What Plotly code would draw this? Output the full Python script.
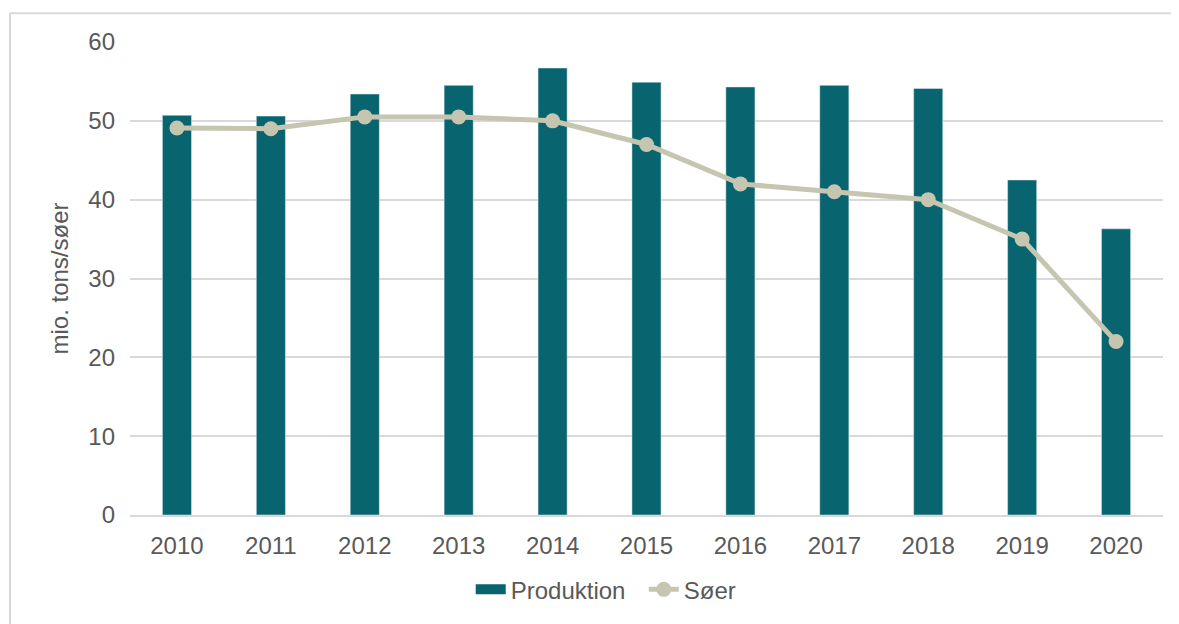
import plotly.graph_objects as go

years = ["2010", "2011", "2012", "2013", "2014", "2015", "2016", "2017", "2018", "2019", "2020"]
produktion = [50.7, 50.6, 53.4, 54.5, 56.7, 54.9, 54.3, 54.5, 54.1, 42.5, 36.3]
soeer = [49.1, 49.0, 50.5, 50.5, 50.0, 47.0, 42.0, 41.0, 40.0, 35.0, 22.0]

BAR = "#08646F"
LINE = "#C6C6B0"
TXT = "#595959"
GRID = "#D9D9D9"

fig = go.Figure()
fig.add_trace(go.Bar(x=years, y=produktion, name="Produktion",
                     marker_color=BAR, showlegend=False))
# legend proxy so the bar key is drawn as a wide block like the original
fig.add_trace(go.Scatter(x=[None], y=[None], name="Produktion  ", mode="lines",
                         line=dict(color=BAR, width=13)))
fig.add_trace(
    go.Scatter(
        x=years,
        y=soeer,
        name="Søer",
        mode="lines+markers",
        line=dict(color=LINE, width=5),
        marker=dict(color=LINE, size=15),
    )
)

# chart frame (top and left edges visible)
bx = (2 - 122) / 1033
by = (510 - 5) / 476
fig.add_shape(type="line", xref="paper", yref="paper", x0=bx, x1=1.1, y0=by, y1=by,
              line=dict(color=GRID, width=2))
fig.add_shape(type="line", xref="paper", yref="paper", x0=bx, x1=bx, y0=-0.3, y1=by,
              line=dict(color=GRID, width=2))

fig.update_layout(
    width=1171,
    height=616,
    margin=dict(l=122, r=16, t=34, b=106),
    plot_bgcolor="white",
    paper_bgcolor="white",
    font=dict(family="Liberation Sans, Arial", size=24, color=TXT),
    bargap=0.69,
    showlegend=True,
    legend=dict(orientation="h", x=0.461, xanchor="center", y=-0.158, yanchor="middle",
                font=dict(size=24, color=TXT), bgcolor="rgba(0,0,0,0)"),
    xaxis=dict(range=[-0.5, 10.5], showgrid=False, showline=True, linecolor=GRID,
               linewidth=2, ticks="", ticklabelstandoff=8,
               tickfont=dict(size=24, color=TXT)),
    yaxis=dict(range=[0, 60], dtick=10, showgrid=True, gridcolor=GRID, gridwidth=2,
               zeroline=False, ticks="", ticklabelstandoff=14,
               tickfont=dict(size=24, color=TXT),
               title=dict(text="mio. tons/søer", font=dict(size=24, color=TXT), standoff=12)),
)

fig.write_html("out.html")
